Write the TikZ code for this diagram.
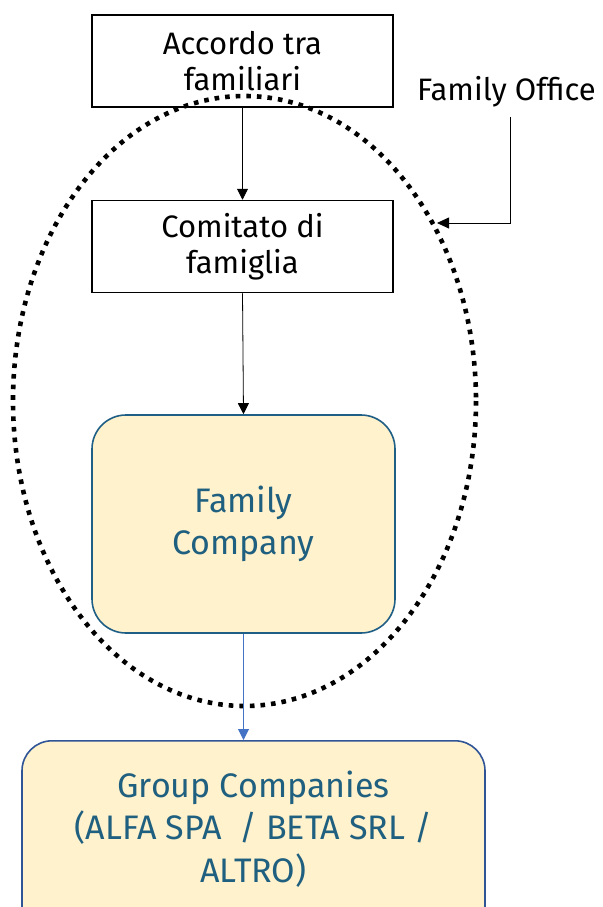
\documentclass[tikz,border=0pt]{standalone}
\usepackage{fontspec}
\setmainfont{Fira Sans}
\usetikzlibrary{arrows.meta}
\definecolor{boxfill}{HTML}{FFF2CC}
\definecolor{tealline}{HTML}{1F5F86}
\definecolor{tealtext}{HTML}{1F5F7F}
\definecolor{blueline}{HTML}{4472C4}
\definecolor{darkblue}{HTML}{2F5597}
\tikzset{
  plainbox/.style={draw=black, fill=white, line width=1.5pt, minimum width=301pt, minimum height=92pt, align=center, font=\fontsize{31}{36}\selectfont, inner sep=0pt},
  companybox/.style={draw=tealline, fill=boxfill, line width=1.6pt, rounded corners=34pt, align=center, text=tealtext, inner sep=0pt},
  blackarrow/.style={-{Triangle[length=11pt,width=11pt]}, line width=0.8pt, black},
  bluearrow/.style={-{Triangle[length=11pt,width=11pt]}, line width=1pt, blueline},
}
\begin{document}
\begin{tikzpicture}[x=1pt,y=-1pt]
\useasboundingbox (0,0) rectangle (602,907);
\clip (0,0) rectangle (602,907);
% top box
\node[plainbox] (acc) at (242.5,61) {Accordo tra\\familiari};
% dotted ellipse
\draw[line width=4.6pt, dash pattern=on 4.6pt off 6pt] (244.5,401) ellipse [x radius=231.5, y radius=305];
% boxes
\node[plainbox] (com) at (242.5,246.5) {\raisebox{-3pt}{\parbox{300pt}{\centering Comitato di\\famiglia}}};
\node[companybox, minimum width=303pt, minimum height=218pt, font=\fontsize{34}{42}\selectfont] (fam) at (243.5,524) {\raisebox{-5pt}{\parbox{300pt}{\centering Family\\Company}}};
\node[companybox, draw=darkblue, rounded corners=30pt, minimum width=463pt, minimum height=220pt, anchor=north] (grp) at (253.5,740) {};
\node[text=tealtext, align=center, font=\fontsize{34}{42.5}\selectfont] (grptext) at (253.5,829) {Group Companies\\(ALFA SPA\ \ / BETA SRL /\\ALTRO)};
% Family Office label
\node[font=\fontsize{31}{36}\selectfont, anchor=west, inner sep=0pt] (fo) at (417,92) {Family Office};
\coordinate (fotop) at (510,117);
\coordinate (fobend) at (510,223);
\coordinate (elltip) at (437,223);
% connectors
\draw[blackarrow] (acc.south) -- (com.north);
\draw[blackarrow] (com.south) -- (fam.north);
\draw[bluearrow] (fam.south) -- (fam.south |- grp.north);
\draw[line width=0.8pt, -{Triangle[length=12pt,width=11pt]}] (fotop) -- (fobend) -- (elltip);
\end{tikzpicture}
\end{document}
